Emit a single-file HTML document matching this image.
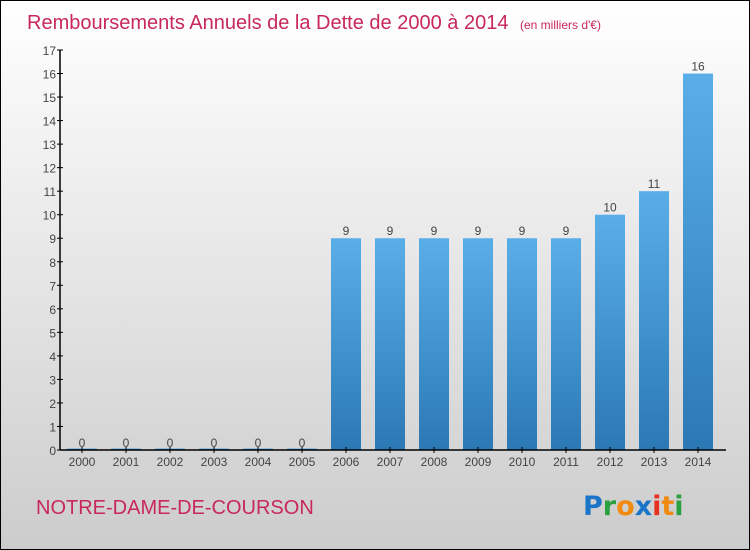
<!DOCTYPE html>
<html><head><meta charset="utf-8"><style>
body{margin:0}
#c{width:750px;height:550px;position:relative;box-sizing:border-box;border:1px solid #000;background:linear-gradient(#fff,#ccc);font-family:"Liberation Sans",sans-serif;overflow:hidden}
</style></head><body>
<div id="c">
<svg id="s" width="750" height="550" style="position:absolute;left:-1px;top:-1px">
<defs><linearGradient id="g" x1="0" y1="0" x2="0" y2="1"><stop offset="0" stop-color="#5aaee8"/><stop offset="1" stop-color="#2a78b4"/></linearGradient></defs>
<text x="27" y="29" font-size="20" fill="#c8285a">Remboursements Annuels de la Dette de 2000 à 2014 <tspan font-size="12" dx="6">(en milliers d'€)</tspan></text>
<text x="36" y="514" font-size="20" fill="#c8285a">NOTRE-DAME-DE-COURSON</text>
<g font-size="27" font-weight="bold" font-family="'DejaVu Sans',sans-serif">
<text x="583" y="515"><tspan fill="#1a74c8">P</tspan><tspan fill="#2aa040">r</tspan><tspan fill="#f08a10">o</tspan><tspan fill="#1a74c8">x</tspan><tspan fill="#e83020">i</tspan><tspan fill="#f08a10">t</tspan><tspan fill="#2aa040">i</tspan></text></g>
<g id="plot"></g>
</svg>
</div>
<script>
const categories=["2000","2001","2002","2003","2004","2005","2006","2007","2008","2009","2010","2011","2012","2013","2014"];
const values=[0,0,0,0,0,0,9,9,9,9,9,9,10,11,16];
const yTicks=[0,1,2,3,4,5,6,7,8,9,10,11,12,13,14,15,16,17];
const ns="http://www.w3.org/2000/svg";
const g=document.getElementById('plot');
const y0=450,yMax=17,ph=400,x0=60,x1=726;
const y=v=>y0-v/yMax*ph;
const bw=44;
const x=i=>82+bw*i;
function el(t,a,txt){const e=document.createElementNS(ns,t);for(const k in a)e.setAttribute(k,a[k]);if(txt!==undefined)e.textContent=txt;g.appendChild(e);return e;}
yTicks.forEach(t=>{
 const l=el('line',{x1:x0-3,x2:x0+3,y1:y(t),y2:y(t),stroke:'#000'});
 
 
 const tx=el('text',{x:x0-4,y:y(t)+5,'text-anchor':'end','font-size':12,fill:'#444'},t);
 
 
});
categories.forEach((c,i)=>{
 const v=values[i];
 const h=Math.max(y0-y(v),1.5);
 const r=el('rect',{x:x(i)-15,y:y0-h,width:30,height:h,fill:'url(#g)'});
 
 
 const vl=el('text',{x:x(i),y:y(v)-3,'text-anchor':'middle','font-size':12,fill:'#444'},v);
 
 
 const tk=el('line',{x1:x(i),x2:x(i),y1:y0-3,y2:y0+3,stroke:'#000'});
 
 
 const xl=el('text',{x:x(i),y:y0+16,'text-anchor':'middle','font-size':12,fill:'#444'},c);
 
 
});
const ya=el('line',{x1:x0,x2:x0,y1:y(yMax),y2:y0,stroke:'#000','stroke-width':1.5});


const xa=el('line',{x1:x0,x2:x1,y1:y0,y2:y0,stroke:'#000','stroke-width':1.5});


</script>
</body></html>
